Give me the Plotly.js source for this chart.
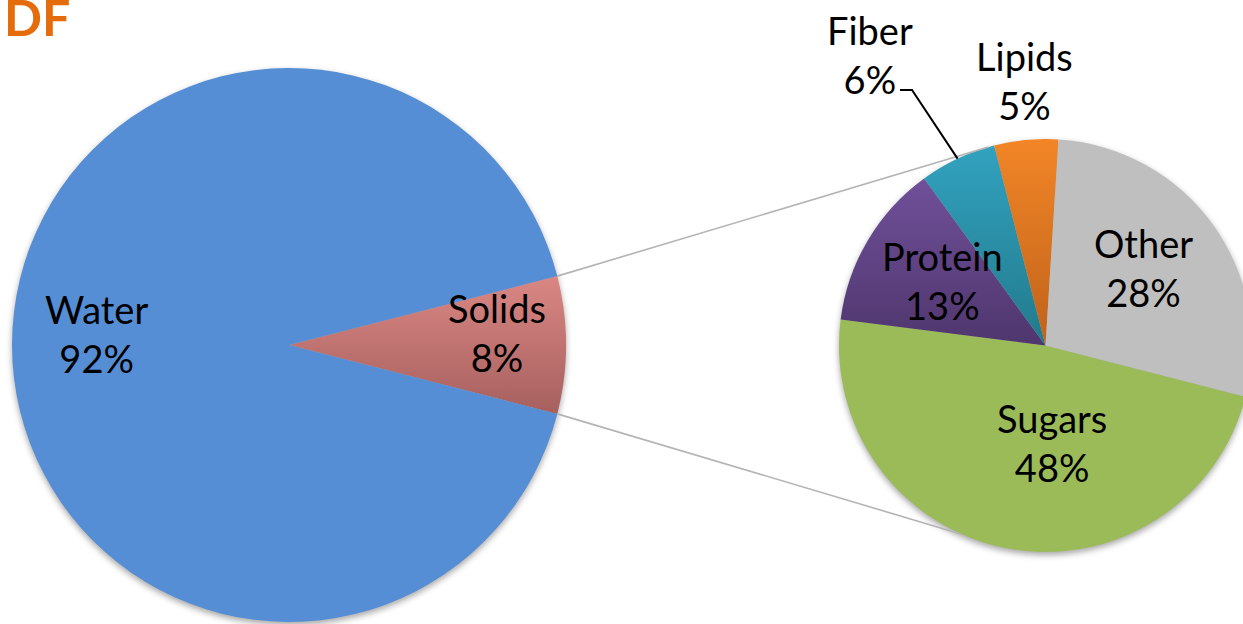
<!DOCTYPE html>
<html>
<head>
<meta charset="utf-8">
<script src="https://cdn.plot.ly/plotly-3.0.1.min.js"></script>
<style>
  html, body { margin: 0; padding: 0; overflow: hidden; background: #fff; }
  #chart { width: 1260px; height: 624px; }
</style>
</head>
<body>
<div id="chart"></div>
<script>
// Composition: water vs solids, and the breakdown of the solids
const chartTitle = 'DF';
const mainLabels = ['Solids', 'Water'];
const mainValues = [8, 92];
const solidsLabels = ['Sugars', 'Protein', 'Fiber', 'Lipids', 'Other'];
const solidsValues = [48, 13, 6, 5, 28];

// Presentation
const W = 1260, H = 624;
const mainColors = ['#D4807D', '#558ED5'];
const solidsColors = ['#9BBB59', '#664A8C', '#2C98B2', '#E77B22', '#BFBFBF'];
// vertical shading for some slices: [top, bottom]
const shading = {
  main: {0: ['#DA8784', '#A6605E']},
  solids: {1: ['#70509A', '#4F366D'], 2: ['#32A2BF', '#227A8C'], 3: ['#F28627', '#C0621A']}
};
const mainBox = {cx: 289, cy: 345, r: 277};
const subBox = {cx: 1045.5, cy: 345.5, r: 206.5};
const subRotation = 104.4;
const connectorAngles = [-16, 204];
const labelFont = {family: 'Lato, "Open Sans", sans-serif', size: 38, color: '#000'};
const mainLabelPos = [[497, 332], [96, 333]];
const subLabelPos = [[1052, 442], [942, 280], [870, 54], [1024, 81], [1143, 267]];
const fiberElbow = [[900, 90], [912, 90]];

const total = a => a.reduce((s, v) => s + v, 0);
const mainTotal = total(mainValues);
const subTotal = total(solidsValues);
// Solids wedge is centred on 3 o'clock
const mainRotation = 90 - (mainValues[0] / mainTotal) * 180;

const px = x => x / W;
const py = y => 1 - y / H;
const dom = b => ({x: [px(b.cx - b.r), px(b.cx + b.r)], y: [py(b.cy + b.r), py(b.cy - b.r)]});
// point on a circle, angle measured clockwise from 12 o'clock
const onCircle = (b, deg) => {
  const a = deg * Math.PI / 180;
  return [b.cx + b.r * Math.sin(a), b.cy - b.r * Math.cos(a)];
};
const pct = (v, t) => Math.round(v / t * 100) + '%';

const traces = [
  {
    type: 'pie', labels: mainLabels, values: mainValues, sort: false,
    direction: 'clockwise', rotation: mainRotation,
    marker: {colors: mainColors, line: {width: 0}},
    textinfo: 'none', hoverinfo: 'none', showlegend: false,
    domain: dom(mainBox)
  },
  {
    type: 'pie', labels: solidsLabels, values: solidsValues, sort: false,
    direction: 'clockwise', rotation: subRotation,
    marker: {colors: solidsColors, line: {width: 0}},
    textinfo: 'none', hoverinfo: 'none', showlegend: false,
    domain: dom(subBox)
  }
];

// connector lines from the edges of the Solids wedge to the breakdown pie
const solidsSpan = mainValues[0] / mainTotal * 360;
const edgeA = onCircle(mainBox, mainRotation);
const edgeB = onCircle(mainBox, mainRotation + solidsSpan);
const endA = onCircle(subBox, connectorAngles[0]);
const endB = onCircle(subBox, connectorAngles[1]);
const lineStyle = {color: '#B4B4B4', width: 1.6};
const shapes = [
  {type: 'line', xref: 'paper', yref: 'paper', x0: px(edgeA[0]), y0: py(edgeA[1]), x1: px(endA[0]), y1: py(endA[1]), line: lineStyle},
  {type: 'line', xref: 'paper', yref: 'paper', x0: px(edgeB[0]), y0: py(edgeB[1]), x1: px(endB[0]), y1: py(endB[1]), line: lineStyle}
];

// leader line for the Fiber label, ending at the middle of its slice
let acc = 0;
const subMid = solidsValues.map(v => { const m = subRotation + (acc + v / 2) / subTotal * 360; acc += v; return m; });
const fiberIdx = solidsLabels.indexOf('Fiber');
const fiberTip = onCircle(subBox, subMid[fiberIdx]);
const leaderPts = fiberElbow.concat([fiberTip]);
shapes.push({
  type: 'path', xref: 'paper', yref: 'paper',
  path: leaderPts.map((p, i) => (i ? 'L' : 'M') + px(p[0]) + ',' + py(p[1])).join(' '),
  line: {color: '#000', width: 2}
});

const annotations = [];
mainLabels.forEach((l, i) => annotations.push({
  xref: 'paper', yref: 'paper', x: px(mainLabelPos[i][0]), y: py(mainLabelPos[i][1]),
  xanchor: 'center', yanchor: 'middle', showarrow: false,
  text: l + '<br>' + pct(mainValues[i], mainTotal), font: labelFont
}));
solidsLabels.forEach((l, i) => annotations.push({
  xref: 'paper', yref: 'paper', x: px(subLabelPos[i][0]), y: py(subLabelPos[i][1]),
  xanchor: 'center', yanchor: 'middle', showarrow: false,
  text: l + '<br>' + pct(solidsValues[i], subTotal), font: labelFont
}));
annotations.push({
  xref: 'paper', yref: 'paper', x: px(2), y: py(-15), xanchor: 'left', yanchor: 'top',
  showarrow: false, text: '<b>' + chartTitle + '</b>',
  font: {family: 'Lato, "Open Sans", sans-serif', size: 50, color: '#E46C0A'}
});

const layout = {
  width: W, height: H,
  margin: {l: 0, r: 0, t: 0, b: 0},
  paper_bgcolor: '#fff', plot_bgcolor: '#fff',
  shapes: shapes, annotations: annotations, showlegend: false
};

function addShading(gd) {
  const svg = gd.querySelector('svg.main-svg');
  const ns = 'http://www.w3.org/2000/svg';
  let defs = svg.querySelector('defs#slice-shading');
  if (!defs) {
    defs = document.createElementNS(ns, 'defs');
    defs.setAttribute('id', 'slice-shading');
    svg.insertBefore(defs, svg.firstChild);
  }
  const groups = gd.querySelectorAll('.pielayer .trace');
  ['main', 'solids'].forEach((key, t) => {
    const g = groups[t];
    if (!g) return;
    g.style.filter = 'drop-shadow(0px 3px 3px rgba(0,0,0,0.35))';
    const paths = g.querySelectorAll('g.slice path.surface');
    Object.keys(shading[key]).forEach(k => {
      const id = 'shade-' + key + '-' + k;
      if (!defs.querySelector('#' + id)) {
        const lg = document.createElementNS(ns, 'linearGradient');
        lg.setAttribute('id', id);
        lg.setAttribute('x1', '0'); lg.setAttribute('y1', '0');
        lg.setAttribute('x2', '0'); lg.setAttribute('y2', '1');
        shading[key][k].forEach((c, j) => {
          const s = document.createElementNS(ns, 'stop');
          s.setAttribute('offset', j ? '1' : '0');
          s.setAttribute('stop-color', c);
          lg.appendChild(s);
        });
        defs.appendChild(lg);
      }
      if (paths[k]) paths[k].style.fill = 'url(#' + id + ')';
    });
  });
}

Plotly.newPlot('chart', traces, layout, {staticPlot: true, displayModeBar: false})
  .then(addShading);
</script>
</body>
</html>
